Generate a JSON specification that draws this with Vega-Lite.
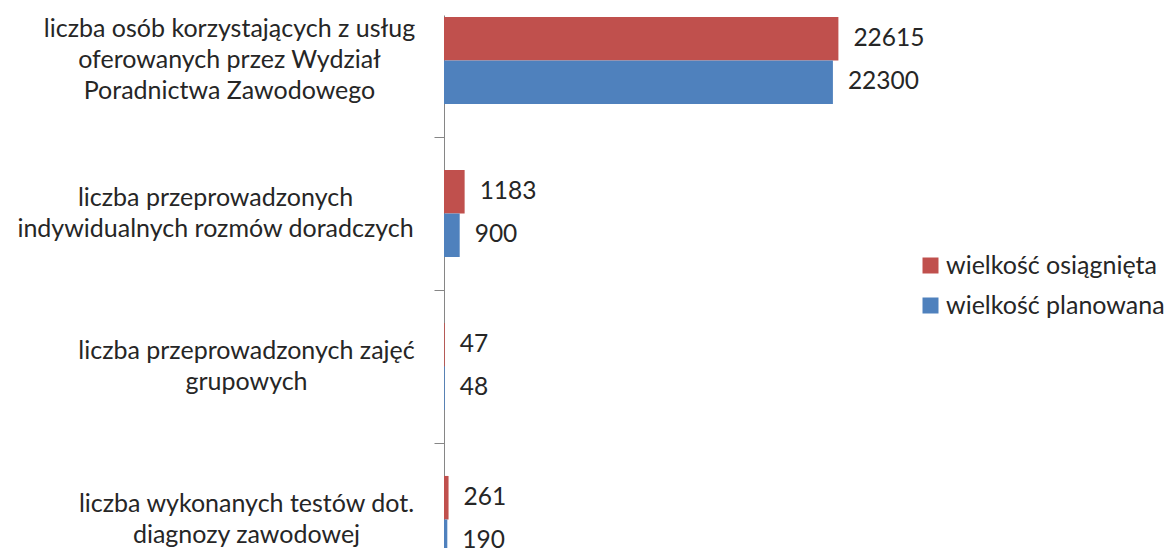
{
  "$schema": "https://vega.github.io/schema/vega-lite/v6.json",
  "autosize": {"type": "none"},
  "padding": {"left": 444, "top": 15, "right": 293, "bottom": 0},
  "width": 436,
  "height": 550,
  "background": "white",
  "config": {
    "view": {"stroke": null},
    "font": "Lato",
    "text": {"font": "Lato"}
  },
  "data": {
    "values": [
      {"kategoria": "liczba osób korzystających z usług|oferowanych przez Wydział|Poradnictwa Zawodowego", "seria": "wielkość osiągnięta", "wartosc": 22615},
      {"kategoria": "liczba osób korzystających z usług|oferowanych przez Wydział|Poradnictwa Zawodowego", "seria": "wielkość planowana", "wartosc": 22300},
      {"kategoria": "liczba przeprowadzonych|indywidualnych rozmów doradczych", "seria": "wielkość osiągnięta", "wartosc": 1183},
      {"kategoria": "liczba przeprowadzonych|indywidualnych rozmów doradczych", "seria": "wielkość planowana", "wartosc": 900},
      {"kategoria": "liczba przeprowadzonych zajęć|grupowych", "seria": "wielkość osiągnięta", "wartosc": 47},
      {"kategoria": "liczba przeprowadzonych zajęć|grupowych", "seria": "wielkość planowana", "wartosc": 48},
      {"kategoria": "liczba wykonanych testów dot.|diagnozy zawodowej", "seria": "wielkość osiągnięta", "wartosc": 261},
      {"kategoria": "liczba wykonanych testów dot.|diagnozy zawodowej", "seria": "wielkość planowana", "wartosc": 190}
    ]
  },
  "encoding": {
    "y": {
      "field": "kategoria",
      "type": "nominal",
      "sort": null,
      "scale": {"paddingInner": 0.431, "paddingOuter": 0.013},
      "axis": {
        "title": null,
        "domainColor": "#868686",
        "tickColor": "#868686",
        "tickSize": 10,
        "tickOffset": -76.5,
        "labelOffset": {
          "condition": {"test": "datum.value == 'liczba osób korzystających z usług|oferowanych przez Wydział|Poradnictwa Zawodowego'", "value": 44.5},
          "value": 60.5
        },
        "labelPadding": {
          "condition": [
            {"test": "datum.value == 'liczba osób korzystających z usług|oferowanych przez Wydział|Poradnictwa Zawodowego'", "value": 205},
            {"test": "datum.value == 'liczba przeprowadzonych|indywidualnych rozmów doradczych'", "value": 219}
          ],
          "value": 188
        },
        "labelExpr": "split(datum.label, '|')",
        "labelAlign": "center",
        "labelBaseline": "middle",
        "labelFont": "Lato",
        "labelFontSize": 25,
        "labelLineHeight": 31,
        "labelColor": "#262626",
        "labelLimit": 0,
        "labelOverlap": false
      }
    },
    "yOffset": {
      "field": "seria",
      "type": "nominal",
      "sort": ["wielkość osiągnięta", "wielkość planowana"],
      "scale": {"paddingInner": 0, "paddingOuter": 0}
    },
    "x": {
      "field": "wartosc",
      "type": "quantitative",
      "scale": {"domain": [0, 25000], "nice": false},
      "axis": null
    }
  },
  "layer": [
    {
      "mark": {"type": "bar"},
      "encoding": {
        "color": {
          "field": "seria",
          "type": "nominal",
          "sort": ["wielkość osiągnięta", "wielkość planowana"],
          "scale": {"domain": ["wielkość osiągnięta", "wielkość planowana"], "range": ["#C0504D", "#4F81BD"]},
          "legend": {
            "title": null,
            "orient": "none",
            "legendX": 474,
            "legendY": 238,
            "padding": 0,
            "symbolType": "square",
            "symbolSize": 256,
            "symbolStrokeWidth": 0,
            "symbolOpacity": 1,
            "labelFont": "Lato",
            "labelFontSize": 25,
            "labelColor": "#262626",
            "labelOffset": 3,
            "labelLimit": 0,
            "rowPadding": 14
          }
        }
      }
    },
    {
      "mark": {"type": "text", "align": "left", "baseline": "middle", "dx": 15, "font": "Lato", "fontSize": 24.5, "color": "#262626"},
      "encoding": {
        "text": {"field": "wartosc", "type": "quantitative", "format": "d"}
      }
    }
  ]
}
